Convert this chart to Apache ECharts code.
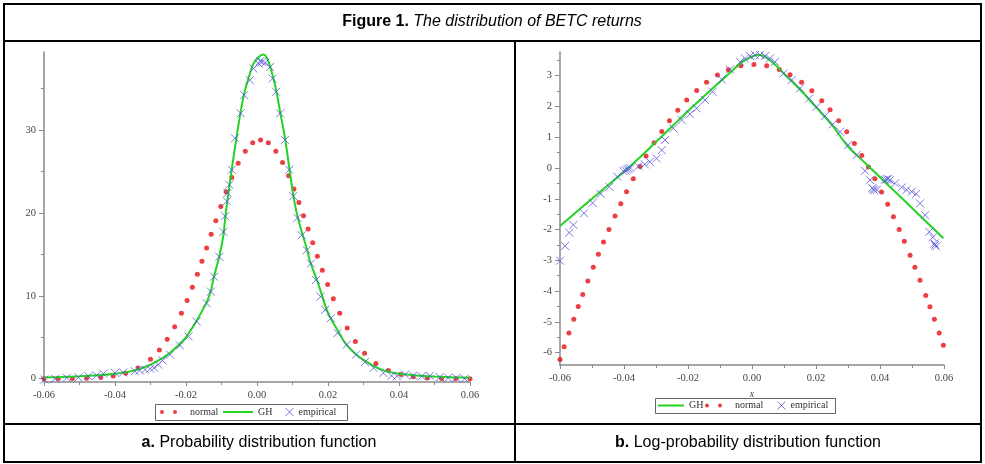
<!DOCTYPE html>
<html>
<head>
<meta charset="utf-8">
<script src="https://cdn.jsdelivr.net/npm/echarts@6/dist/echarts.min.js"></script>
<style>html,body{margin:0;padding:0;background:#fff;}#c{width:985px;height:464px;}</style>
</head>
<body>
<div id="c"></div>
<script>
// ---------- Panel a: probability distribution function ----------
const normX_a = [-0.060,-0.056,-0.052,-0.048,-0.044,-0.0405,-0.037,-0.0335,-0.030,-0.0275,-0.0253,-0.0232,-0.0213,-0.0197,-0.0182,-0.0168,-0.0155,-0.0142,-0.0129,-0.0116,-0.0102,-0.0087,-0.0071,-0.0053,-0.0033,-0.0012,0.001,0.0032,0.0053,0.0072,0.0089,0.0104,0.0118,0.0131,0.0144,0.0157,0.017,0.0184,0.0199,0.0215,0.0233,0.0254,0.0277,0.0303,0.0335,0.037,0.0405,0.044,0.048,0.052,0.056,0.060];
const normY_a = [0.00,0.01,0.02,0.06,0.15,0.32,0.67,1.29,2.35,3.47,4.75,6.26,7.88,9.43,11.02,12.61,14.16,15.77,17.41,19.04,20.77,22.54,24.27,25.97,27.44,28.44,28.8,28.44,27.44,26.06,24.48,22.88,21.25,19.66,18.04,16.40,14.78,13.08,11.35,9.63,7.88,6.10,4.49,3.07,1.84,0.98,0.49,0.23,0.09,0.03,0.01,0.00];

const ghX_a = [-0.060,-0.055,-0.050,-0.045,-0.040,-0.036,-0.033,-0.030,-0.0265,-0.024,-0.0208,-0.0189,-0.017,-0.0142,-0.013,-0.0123,-0.0106,-0.0095,-0.009,-0.0083,-0.0071,-0.0058,-0.0046,-0.0036,-0.002,-0.001,0.0005,0.0017,0.003,0.0044,0.0054,0.0065,0.0079,0.0091,0.0102,0.0114,0.0131,0.0142,0.0149,0.0168,0.0182,0.0194,0.0206,0.0229,0.025,0.028,0.031,0.0347,0.038,0.042,0.046,0.050,0.055,0.060];
const ghY_a = [0.15,0.2,0.28,0.4,0.6,0.85,1.2,1.7,2.5,3.3,4.6,5.7,7.0,9.2,10.6,12.0,14.8,17.2,19.2,21.6,25.3,29.0,32.2,34.4,36.8,38.0,38.8,39.1,38.5,36.6,34.8,32.2,29.0,25.4,22.2,19.6,17.0,15.4,14.2,12.0,10.2,8.6,7.4,5.7,4.2,2.9,2.0,1.15,0.75,0.5,0.35,0.25,0.17,0.12];

const empX_a = [-0.0599,-0.0569,-0.0536,-0.0503,-0.0475,-0.0452,-0.0433,-0.0400,-0.0377,-0.0344,-0.0330,-0.0315,-0.0301,-0.0290,-0.0278,-0.0266,-0.0245,-0.0217,-0.0193,-0.0170,-0.0142,-0.0130,-0.0121,-0.0106,-0.0095,-0.0090,-0.0085,-0.0083,-0.0078,-0.0071,-0.0062,-0.0046,-0.0036,-0.0020,-0.0010,0.0005,0.0009,0.0015,0.0023,0.0037,0.0044,0.0054,0.0065,0.0079,0.0091,0.0102,0.0114,0.0126,0.0140,0.0152,0.0166,0.0179,0.0192,0.0208,0.0227,0.0253,0.0279,0.0304,0.0328,0.0356,0.0379,0.0394,0.0417,0.0440,0.0464,0.0487,0.0515,0.0539,0.0562,0.0585,0.0604];
const empY_a = [-0.1,0.0,0.1,0.15,0.3,0.4,0.6,0.7,0.75,0.9,1.0,1.1,1.2,1.3,1.7,2.2,2.9,4.0,5.1,6.9,9.1,10.5,12.3,14.7,17.7,19.6,21.4,22.4,23.4,25.2,29.0,32.0,34.2,36.0,37.4,38.0,38.3,38.2,38.1,37.6,36.2,34.6,32.0,28.8,25.2,22.0,19.4,17.3,15.5,13.9,11.9,9.9,8.3,7.3,5.5,4.1,2.9,2.0,1.3,0.7,0.35,0.3,0.5,0.35,0.3,0.35,0.2,0.1,0.1,0.0,-0.1];

const yTicks_a = [0, 10, 20, 30];
const yMinor_a = [5, 15, 25, 35];

// ---------- Panel b: log-probability distribution function ----------
const normX_b = [-0.0600,-0.0587,-0.0572,-0.0557,-0.0543,-0.0529,-0.0513,-0.0496,-0.0480,-0.0464,-0.0447,-0.0428,-0.0410,-0.0392,-0.0371,-0.0350,-0.0331,-0.0306,-0.0282,-0.0258,-0.0232,-0.0204,-0.0173,-0.0142,-0.0108,-0.0074,-0.0035,0.0006,0.0046,0.0085,0.0119,0.0155,0.0187,0.0218,0.0244,0.0271,0.0296,0.0320,0.0343,0.0364,0.0384,0.0405,0.0424,0.0442,0.0460,0.0476,0.0494,0.0509,0.0525,0.0543,0.0556,0.0570,0.0585,0.0598];
const normY_b = [-6.22,-5.81,-5.36,-4.91,-4.50,-4.11,-3.67,-3.22,-2.80,-2.40,-2.00,-1.56,-1.16,-0.77,-0.35,0.05,0.39,0.82,1.19,1.54,1.88,2.21,2.52,2.79,3.02,3.19,3.32,3.36,3.32,3.20,3.03,2.79,2.51,2.19,1.89,1.54,1.18,0.80,0.41,0.03,-0.35,-0.78,-1.18,-1.58,-2.00,-2.38,-2.83,-3.22,-3.65,-4.14,-4.51,-4.91,-5.36,-5.76];

const ghX_b = [-0.060,-0.055,-0.050,-0.045,-0.040,-0.035,-0.030,-0.025,-0.020,-0.015,-0.010,-0.006,-0.003,0.000,0.002,0.004,0.007,0.010,0.015,0.020,0.025,0.030,0.035,0.040,0.045,0.050,0.055,0.0598];
const ghY_b = [-1.88,-1.44,-1.00,-0.56,-0.12,0.35,0.85,1.35,1.85,2.33,2.80,3.18,3.45,3.62,3.68,3.62,3.38,3.07,2.55,1.98,1.40,0.70,0.20,-0.30,-0.80,-1.30,-1.80,-2.28];

const empX_b = [-0.0600,-0.0584,-0.0571,-0.0558,-0.0525,-0.0498,-0.0473,-0.0446,-0.0421,-0.0402,-0.0395,-0.0390,-0.0386,-0.0380,-0.0355,-0.0335,-0.0319,-0.0298,-0.0282,-0.0272,-0.0246,-0.0220,-0.0194,-0.0173,-0.0147,-0.0123,-0.0095,-0.0069,-0.0037,-0.0022,-0.0006,0.0009,0.0025,0.0041,0.0056,0.0072,0.0098,0.0124,0.0150,0.0179,0.0202,0.0228,0.0252,0.0275,0.0301,0.0327,0.0353,0.0369,0.0376,0.0379,0.0382,0.0390,0.0415,0.0421,0.0425,0.0431,0.0447,0.0468,0.0483,0.0499,0.0513,0.0525,0.0541,0.0554,0.0565,0.0570,0.0572,0.0575,0.0603];
const empY_b = [-3.01,-2.53,-2.10,-1.85,-1.47,-1.13,-0.84,-0.61,-0.28,-0.10,-0.08,-0.05,-0.02,0.00,0.06,0.12,0.20,0.31,0.58,0.91,1.29,1.56,1.75,1.94,2.21,2.48,2.88,3.20,3.45,3.56,3.64,3.67,3.67,3.64,3.56,3.45,3.07,2.86,2.59,2.26,1.99,1.69,1.42,1.18,0.75,0.42,-0.09,-0.39,-0.65,-0.69,-0.72,-0.71,-0.38,-0.37,-0.35,-0.39,-0.50,-0.63,-0.71,-0.77,-0.84,-1.15,-1.53,-2.07,-2.25,-2.45,-2.50,-2.55,-2.12];

const yTicks_b = [-6, -5, -4, -3, -2, -1, 0, 1, 2, 3];
const yMinor_b = [-5.5, -4.5, -3.5, -2.5, -1.5, -0.5, 0.5, 1.5, 2.5, 3.5];

// ---------- texts ----------
const titleBold = 'Figure 1.';
const titleItalic = ' The distribution of BETC returns';
const capA = ['a.', ' Probability distribution function'];
const capB = ['b.', ' Log-probability distribution function'];

// ---------- build ----------
const pairs = (xs, ys) => xs.map((x, i) => [x, ys[i]]);

const RED = '#e60f14', GREEN = '#22d422', BLUE = '#5858dc';
const AXIS = '#8a8a8a', LABEL = '#444';
const SERIF = '"Liberation Serif","DejaVu Serif",serif';
const SANS = '"Liberation Sans",Arial,sans-serif';
const crossPath = 'path://M0,0L10,10M10,0L0,10';
const dotsPath = 'path://M0,2a2,2 0 1,0 4,0a2,2 0 1,0 -4,0zM13,2a2,2 0 1,0 4,0a2,2 0 1,0 -4,0z';

function xAxisCfg(grid, withName) {
  const a = {
    type: 'value', gridIndex: grid, min: -0.06, max: 0.06, interval: 0.02,
    axisLine: { show: true, onZero: false, lineStyle: { color: AXIS, width: 1.5 } },
    axisTick: { show: true, length: 4, lineStyle: { color: AXIS } },
    minorTick: { show: true, splitNumber: 2, length: 3, lineStyle: { color: AXIS } },
    splitLine: { show: false },
    axisLabel: { color: LABEL, fontFamily: SERIF, fontSize: 10.5, margin: 8,
      formatter: v => (Math.abs(v) < 1e-9 ? '0.00' : v.toFixed(2)) }
  };
  if (withName) {
    a.name = 'x'; a.nameLocation = 'middle'; a.nameGap = 20;
    a.nameTextStyle = { color: LABEL, fontFamily: SERIF, fontStyle: 'italic', fontSize: 10 };
  }
  return a;
}
function yAxisMain(grid, min, max, ticks) {
  return {
    type: 'value', gridIndex: grid, min: min, max: max, position: 'left',
    axisLine: { show: true, onZero: false, lineStyle: { color: AXIS, width: 1.5 } },
    axisTick: { show: true, length: 5, customValues: ticks, lineStyle: { color: AXIS } },
    splitLine: { show: false },
    axisLabel: { customValues: ticks, color: LABEL, fontFamily: SERIF, fontSize: 10.5, margin: 8 }
  };
}
function yAxisMinor(grid, min, max, ticks) {
  return {
    type: 'value', gridIndex: grid, min: min, max: max, position: 'left', offset: 0,
    axisLine: { show: false, onZero: false },
    axisTick: { show: true, length: 3, customValues: ticks, lineStyle: { color: AXIS } },
    splitLine: { show: false },
    axisLabel: { show: false }
  };
}
const normalSeries = (xi, yi, xs, ys) => ({
  name: 'normal', type: 'scatter', xAxisIndex: xi, yAxisIndex: yi, z: 2,
  symbol: 'circle', symbolSize: 5, itemStyle: { color: RED },
  data: pairs(xs, ys)
});
const ghSeries = (xi, yi, xs, ys) => ({
  name: 'GH', type: 'line', xAxisIndex: xi, yAxisIndex: yi, z: 3,
  showSymbol: false, smooth: 0.3, color: GREEN,
  lineStyle: { color: GREEN, width: 2 },
  data: pairs(xs, ys)
});
const empSeries = (xi, yi, xs, ys) => ({
  name: 'empirical', type: 'scatter', xAxisIndex: xi, yAxisIndex: yi, z: 4,
  symbol: crossPath, symbolSize: 8,
  itemStyle: { color: 'transparent', borderColor: BLUE, borderWidth: 1 },
  data: pairs(xs, ys)
});

const legTxt = { fontFamily: SERIF, fontSize: 10, color: '#333', lineHeight: 12 };
function legendItem(left, top, name, icon, w, h, style, pad) {
  return {
    left: left, top: top, padding: 0, itemWidth: w, itemHeight: h, selectedMode: false,
    data: [{ name: name, icon: icon, itemStyle: style }],
    textStyle: Object.assign({}, legTxt, { padding: [0, 0, 0, pad] })
  };
}
const stNormal = { color: RED };
const stGH = { color: GREEN, borderWidth: 0 };
const stEmp = { color: 'transparent', borderColor: BLUE, borderWidth: 1 };

const FS = 16;
const option = {
  animation: false,
  backgroundColor: '#fff',
  grid: [
    { left: 44, right: 515, top: 52, bottom: 82 },
    { left: 560, right: 41, top: 52, bottom: 99 }
  ],
  xAxis: [xAxisCfg(0, false), xAxisCfg(1, true)],
  yAxis: [
    yAxisMain(0, -0.4, 39.4, yTicks_a), yAxisMinor(0, -0.4, 39.4, yMinor_a),
    yAxisMain(1, -6.4, 3.77, yTicks_b), yAxisMinor(1, -6.4, 3.77, yMinor_b)
  ],
  legend: [
    legendItem(160, 406, 'normal', dotsPath, 17, 4, stNormal, 8),
    legendItem(223, 406, 'GH', 'rect', 30, 2, stGH, 0),
    legendItem(285, 406, 'empirical', crossPath, 8, 8, stEmp, 0),
    legendItem(658, 399.5, 'GH', 'rect', 26, 2, stGH, 0),
    legendItem(705, 399.5, 'normal', dotsPath, 17, 4, stNormal, 8),
    legendItem(777, 399.5, 'empirical', crossPath, 8, 8, stEmp, 0)
  ],
  series: [
    normalSeries(0, 0, normX_a, normY_a),
    ghSeries(0, 0, ghX_a, ghY_a),
    empSeries(0, 0, empX_a, empY_a),
    ghSeries(1, 2, ghX_b, ghY_b),
    normalSeries(1, 2, normX_b, normY_b),
    empSeries(1, 2, empX_b, empY_b)
  ],
  graphic: [
    { type: 'rect', z: 0, shape: { x: 155.5, y: 404.5, width: 192, height: 16 },
      style: { fill: '#fff', stroke: '#666', lineWidth: 1 } },
    { type: 'rect', z: 0, shape: { x: 655.5, y: 398.5, width: 180, height: 15 },
      style: { fill: '#fff', stroke: '#666', lineWidth: 1 } },
    { type: 'rect', z: 100, shape: { x: 4, y: 4, width: 977, height: 458 },
      style: { fill: 'none', stroke: '#000', lineWidth: 2 } },
    { type: 'line', z: 100, shape: { x1: 4, y1: 41, x2: 981, y2: 41 }, style: { stroke: '#000', lineWidth: 2 } },
    { type: 'line', z: 100, shape: { x1: 4, y1: 424, x2: 981, y2: 424 }, style: { stroke: '#000', lineWidth: 2 } },
    { type: 'line', z: 100, shape: { x1: 515, y1: 41, x2: 515, y2: 462 }, style: { stroke: '#000', lineWidth: 2 } },
    { type: 'text', z: 100, x: 492, y: 22,
      style: { text: '{b|' + titleBold + '}{i|' + titleItalic + '}', align: 'center', verticalAlign: 'middle',
        rich: { b: { fontFamily: SANS, fontWeight: 'bold', fontSize: FS, fill: '#000' },
                i: { fontFamily: SANS, fontStyle: 'italic', fontSize: FS, fill: '#000' } } } },
    { type: 'text', z: 100, x: 259, y: 443,
      style: { text: '{b|' + capA[0] + '}{n|' + capA[1] + '}', align: 'center', verticalAlign: 'middle',
        rich: { b: { fontFamily: SANS, fontWeight: 'bold', fontSize: FS, fill: '#000' },
                n: { fontFamily: SANS, fontSize: FS, fill: '#000' } } } },
    { type: 'text', z: 100, x: 748, y: 443,
      style: { text: '{b|' + capB[0] + '}{n|' + capB[1] + '}', align: 'center', verticalAlign: 'middle',
        rich: { b: { fontFamily: SANS, fontWeight: 'bold', fontSize: FS, fill: '#000' },
                n: { fontFamily: SANS, fontSize: FS, fill: '#000' } } } }
  ]
};

const chart = echarts.init(document.getElementById('c'));
chart.setOption(option);
</script>
</body>
</html>
